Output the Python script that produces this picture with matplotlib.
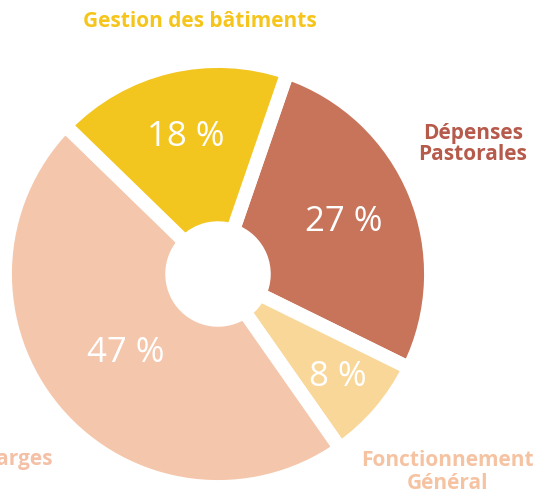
import matplotlib.pyplot as plt
import numpy as np

# Budget split (percent), drawn clockwise from the top-right
categories = ['Dépenses\nPastorales', 'Fonctionnement\nGénéral', 'Charges', 'Gestion des bâtiments']
shares = [27, 8, 47, 18]
slice_colors = ['#C8745A', '#F9D799', '#F4C6AB', '#F2C51F']
label_colors = ['#B65A4B', '#F6C3A2', '#F4C0A6', '#F5C51C']

R = 213
cx, cy = 218, 220

fig = plt.figure(figsize=(5.41, 4.94), dpi=100)
ax = fig.add_axes([0, 0, 1, 1])

wedges, texts, pcts = ax.pie(
    shares, colors=slice_colors, startangle=71, counterclock=False,
    radius=R, center=(cx, cy),
    autopct=lambda p: '%d %%' % round(p), pctdistance=0.66,
    wedgeprops=dict(width=R * 0.785, edgecolor='white', linewidth=10),
    textprops=dict(color='white', fontsize=25, family='Open Sans'),
    frame=True)
ax.set_xlim(0, 541)
ax.set_ylim(0, 494)
ax.set_aspect('equal')
ax.axis('off')

# nudge the percentage labels like in the original
dist = [0.64, 0.74, 0.57, 0.66]
for w, t, d in zip(wedges, pcts, dist):
    ang = np.deg2rad((w.theta1 + w.theta2) / 2)
    t.set_position((cx + R * d * np.cos(ang), cy + R * d * np.sin(ang)))

# category labels
lab_font = dict(family='Open Sans', fontsize=15, weight='bold')
ax.text(200, 472, categories[3], color=label_colors[3], ha='center', va='center', **lab_font)
ax.text(473, 350, categories[0], color=label_colors[0], ha='center', va='center',
        linespacing=0.95, **lab_font)
ax.text(447, 22, categories[1], color=label_colors[1], ha='center', va='center',
        linespacing=1.1, **lab_font)
ax.text(53, 34, categories[2], color=label_colors[2], ha='right', va='center', **lab_font)

fig.savefig('out.png', dpi=100, facecolor='white')
